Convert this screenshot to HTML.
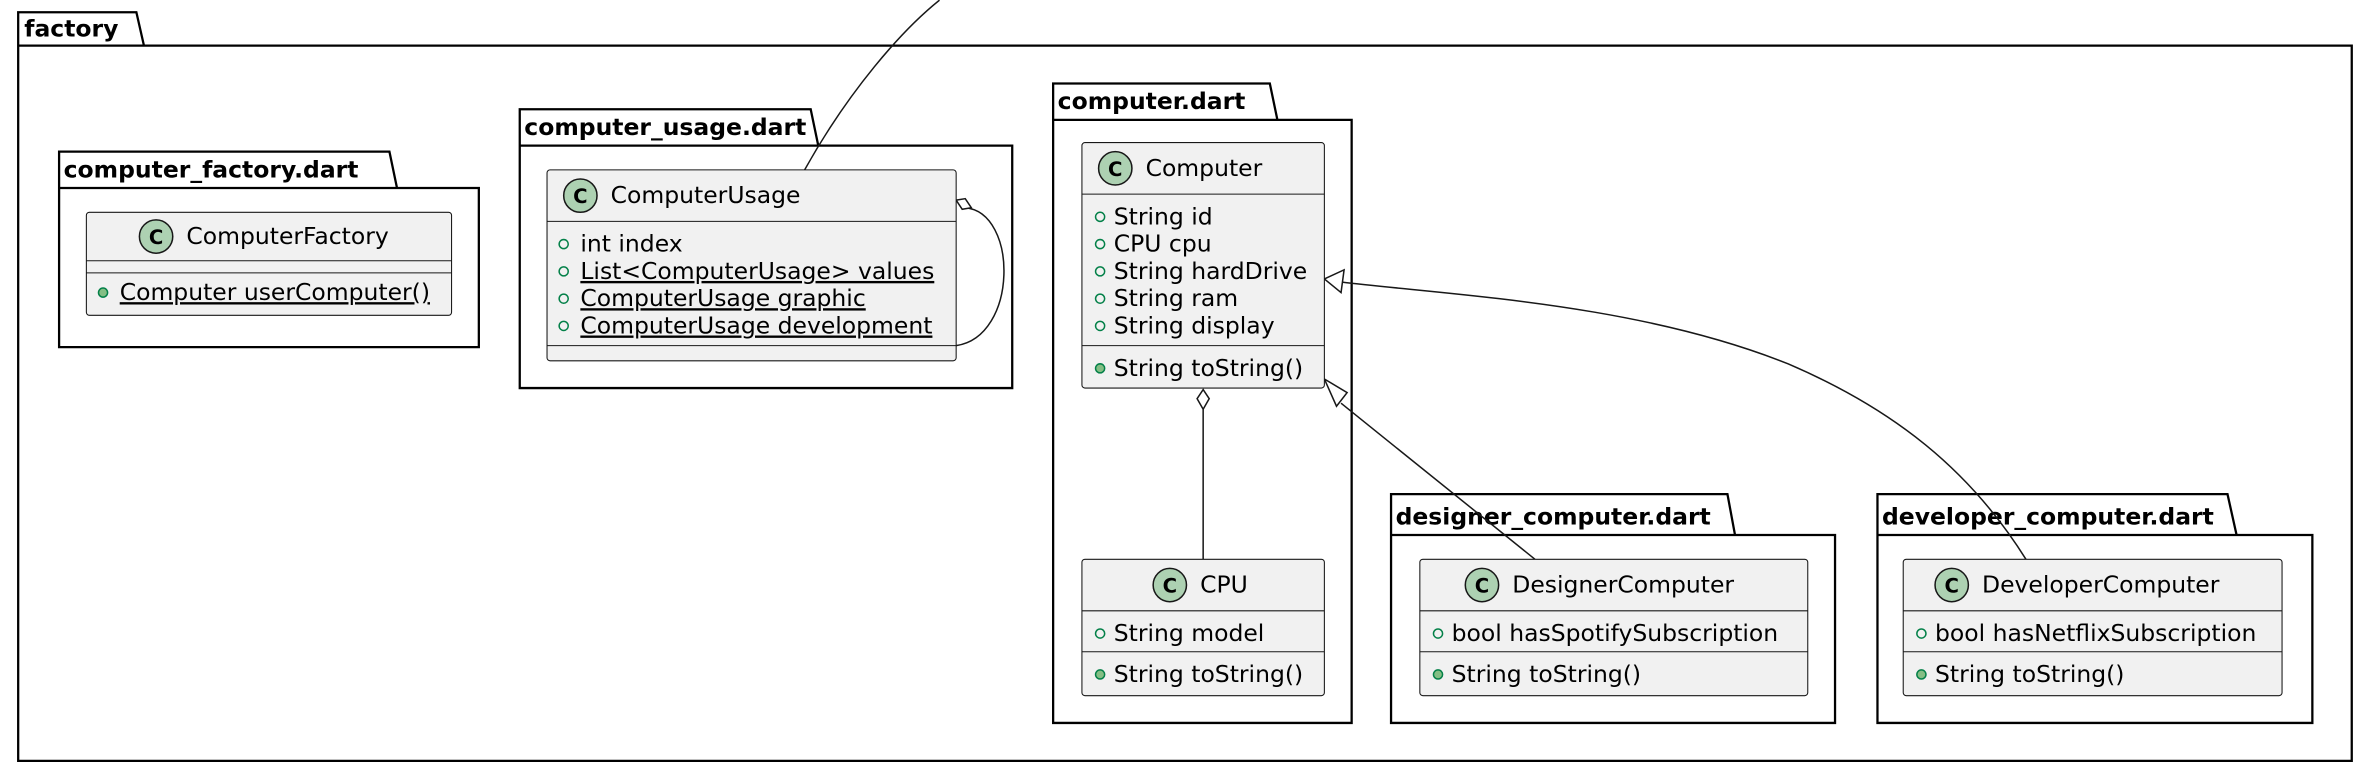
<!DOCTYPE html>
<html><head><meta charset="utf-8"><style>
html,body{margin:0;padding:0;background:#fff;}
svg{display:block;}
text{font-family:"DejaVu Sans","Liberation Sans",sans-serif;fill:#000;}
.pk{font-weight:bold;font-size:15.5px;}
.cn{font-size:15.5px;}
.m{font-size:15.5px;}
</style></head><body>
<svg width="2376" height="764" viewBox="0 0 1568 504" xmlns="http://www.w3.org/2000/svg">
<g fill="none" stroke="#000" stroke-width="1.5">
<path d="M12,30 L12,8 L90,8 L95,30 M12,30 L1552,30 L1552,502 L12,502 Z"/>
<path d="M39,124 L39,100 L257,100 L262,124 M39,124 L316,124 L316,229 L39,229 Z"/>
<path d="M343,96 L343,72 L535,72 L540,96 M343,96 L668,96 L668,256 L343,256 Z"/>
<path d="M695,79 L695,55 L838,55 L843,79 M695,79 L892,79 L892,477 L695,477 Z"/>
<path d="M918,353 L918,326 L1140,326 L1145,353 M918,353 L1211,353 L1211,477 L918,477 Z"/>
<path d="M1239,353 L1239,326 L1470,326 L1476,353 M1239,353 L1526,353 L1526,477 L1239,477 Z"/>
</g>
<text class="pk" x="16" y="24">factory</text>
<text class="pk" x="42" y="117">computer_factory.dart</text>
<text class="pk" x="346" y="89">computer_usage.dart</text>
<text class="pk" x="698" y="72">computer.dart</text>
<text class="pk" x="921" y="346">designer_computer.dart</text>
<text class="pk" x="1242" y="346">developer_computer.dart</text>

<g fill="none" stroke="#181818" stroke-width="1">
<path d="M531,112 C560,60 595,20 620,0"/>
<path d="M637,137 C672,140 672,222 631,228"/>
<path d="M794,270 L794,369"/>
<path d="M1013,369 L885,266"/>
<path d="M1337,369 C1300,310 1250,270 1180,240 C1080,200 960,195 885,186"/>
</g>
<path d="M631,132 L637,131 L641,137 L635,138 Z" fill="#fff" stroke="#181818"/>
<path d="M794,257 L798,263 L794,270 L790,263 Z" fill="#fff" stroke="#181818"/>
<path d="M874,250 L889,259 L882,268 Z" fill="#fff" stroke="#181818"/>
<path d="M874,184 L887,178 L885,193 Z" fill="#fff" stroke="#181818"/>

<g stroke="#181818" stroke-width="0.7" fill="#F1F1F1">
<rect x="57" y="140" width="241" height="68" rx="2"/>
<rect x="361" y="112" width="270" height="126" rx="2"/>
<rect x="714" y="94" width="160" height="162" rx="2"/>
<rect x="714" y="369" width="160" height="90" rx="2"/>
<rect x="937" y="369" width="256" height="90" rx="2"/>
<rect x="1256" y="369" width="250" height="90" rx="2"/>
</g>
<g stroke="#181818" stroke-width="0.7">
<path d="M57,172H298M57,180H298"/>
<path d="M361,146H631M361,228H631"/>
<path d="M714,128H874M714,228H874"/>
<path d="M714,403H874M714,430H874"/>
<path d="M937,403H1193M937,430H1193"/>
<path d="M1256,403H1506M1256,430H1506"/>
</g>
<g fill="#ADD1B2" stroke="#181818" stroke-width="1">
<circle cx="103" cy="156" r="11"/>
<circle cx="383" cy="129" r="11"/>
<circle cx="736" cy="111" r="11"/>
<circle cx="772" cy="386" r="11"/>
<circle cx="978" cy="386" r="11"/>
<circle cx="1288" cy="386" r="11"/>
</g>
<g font-weight="bold" font-size="13" text-anchor="middle">
<text x="103" y="161">C</text><text x="383" y="134">C</text><text x="736" y="116">C</text>
<text x="772" y="391">C</text><text x="978" y="391">C</text><text x="1288" y="391">C</text>
</g>
<g class="cn">
<text x="123" y="161">ComputerFactory</text>
<text x="403" y="134">ComputerUsage</text>
<text x="756" y="116">Computer</text>
<text x="792" y="391">CPU</text>
<text x="998" y="391">DesignerComputer</text>
<text x="1308" y="391">DeveloperComputer</text>
</g>
<g fill="none" stroke="#038048" stroke-width="1">
<circle cx="372" cy="161" r="3"/><circle cx="372" cy="179" r="3"/><circle cx="372" cy="197" r="3"/><circle cx="372" cy="215" r="3"/>
<circle cx="726" cy="143" r="3"/><circle cx="726" cy="161" r="3"/><circle cx="726" cy="179" r="3"/><circle cx="726" cy="197" r="3"/><circle cx="726" cy="215" r="3"/>
<circle cx="726" cy="418" r="3"/><circle cx="949" cy="418" r="3"/><circle cx="1268" cy="418" r="3"/>
</g>
<g fill="#84BE84" stroke="#038048" stroke-width="1">
<circle cx="68" cy="193" r="3"/><circle cx="726" cy="243" r="3"/><circle cx="726" cy="445" r="3"/><circle cx="949" cy="445" r="3"/><circle cx="1268" cy="445" r="3"/>
</g>
<g class="m">
<text x="79" y="198" text-decoration="underline">Computer userComputer()</text>
<text x="383" y="166">int index</text>
<text x="383" y="184" text-decoration="underline">List&lt;ComputerUsage&gt; values</text>
<text x="383" y="202" text-decoration="underline">ComputerUsage graphic</text>
<text x="383" y="220" text-decoration="underline">ComputerUsage development</text>
<text x="735" y="148">String id</text>
<text x="735" y="166">CPU cpu</text>
<text x="735" y="184">String hardDrive</text>
<text x="735" y="202">String ram</text>
<text x="735" y="220">String display</text>
<text x="735" y="248">String toString()</text>
<text x="735" y="423">String model</text>
<text x="735" y="450">String toString()</text>
<text x="958" y="423">bool hasSpotifySubscription</text>
<text x="958" y="450">String toString()</text>
<text x="1277" y="423">bool hasNetflixSubscription</text>
<text x="1277" y="450">String toString()</text>
</g>
</svg>
</body></html>
